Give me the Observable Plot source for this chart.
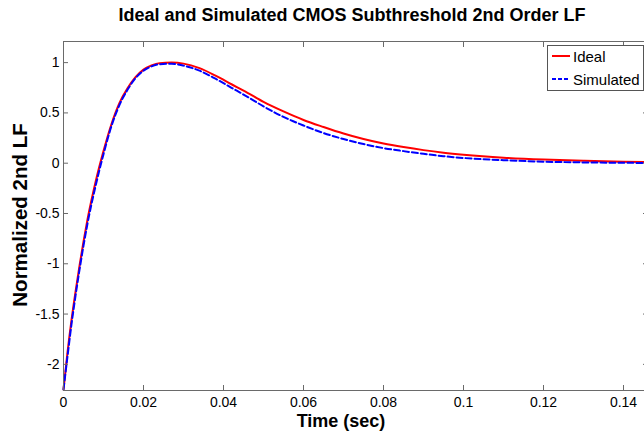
<!DOCTYPE html>
<html>
<head>
<meta charset="utf-8">
<script src="https://cdn.jsdelivr.net/npm/d3@7"></script>
<script src="https://cdn.jsdelivr.net/npm/@observablehq/plot@0.6"></script>
<style>
  html, body { margin: 0; padding: 0; background: #fff; overflow: hidden; width: 644px; height: 433px; }
  #wrap { position: relative; width: 644px; height: 433px; overflow: hidden; font-family: "Liberation Sans", Arial, sans-serif; }
  #title { position: absolute; left: 0; width: 704px; top: 5px; text-align: center; font-family: "Liberation Sans Narrow", "Liberation Sans", Arial, sans-serif; font-weight: bold; font-size: 18px; color: #000; white-space: nowrap; }
  #xlabel { position: absolute; left: 241px; width: 200px; top: 412px; text-align: center; font-weight: bold; font-size: 18px; line-height: 18px; color: #000; white-space: nowrap; }
  #ylabel { position: absolute; left: 20px; top: 215px; transform: translate(-50%, -50%) rotate(-90deg); font-weight: bold; font-size: 20.5px; color: #000; white-space: nowrap; }
  #legend { position: absolute; left: 547px; top: 45px; width: 95px; height: 44px; border: 1px solid #555; background: #fff; font-size: 15px; }
  .item { position: absolute; left: 4px; height: 20px; display: flex; align-items: center; }
  .item span { margin-left: 3px; }
</style>
</head>
<body>
<div id="wrap">
  <div id="chart"></div>
  <div id="title"></div>
  <div id="xlabel"></div>
  <div id="ylabel"></div>
  <div id="legend"></div>
</div>
<script>
const titleText = "Ideal and Simulated CMOS Subthreshold 2nd Order LF";
const xLabel = "Time (sec)";
const yLabel = "Normalized 2nd LF";
const seriesNames = ["Ideal", "Simulated"];
const seriesColors = ["#ff0000", "#0000ff"];

const xTicks = [0, 0.02, 0.04, 0.06, 0.08, 0.1, 0.12, 0.14];
const yTicks = [-2, -1.5, -1, -0.5, 0, 0.5, 1];

const times = [0, 0.001, 0.002, 0.003, 0.004, 0.005, 0.006, 0.008, 0.010, 0.012, 0.014, 0.016, 0.018, 0.020, 0.022, 0.024, 0.027, 0.030, 0.034, 0.038, 0.042, 0.046, 0.050, 0.055, 0.060, 0.065, 0.070, 0.075, 0.080, 0.085, 0.090, 0.095, 0.100, 0.110, 0.120, 0.130, 0.140, 0.150];
const ideal = [-2.25, -1.88, -1.56, -1.28, -1.02, -0.78, -0.56, -0.19, 0.12, 0.39, 0.60, 0.745, 0.855, 0.93, 0.972, 0.995, 1.0, 0.99, 0.945, 0.87, 0.785, 0.70, 0.61, 0.515, 0.43, 0.36, 0.295, 0.24, 0.195, 0.16, 0.13, 0.105, 0.085, 0.055, 0.036, 0.024, 0.015, 0.01];
const simulated = [-2.25, -1.92, -1.60, -1.32, -1.06, -0.82, -0.60, -0.23, 0.09, 0.37, 0.58, 0.73, 0.845, 0.92, 0.963, 0.984, 0.99, 0.97, 0.92, 0.84, 0.75, 0.66, 0.565, 0.46, 0.375, 0.30, 0.24, 0.19, 0.15, 0.12, 0.093, 0.07, 0.052, 0.03, 0.015, 0.008, 0.004, 0.002];

const rows = [
  ...times.map((t, i) => ({t, v: ideal[i], s: seriesNames[0]})),
  ...times.map((t, i) => ({t, v: simulated[i], s: seriesNames[1]}))
];

const axisColor = "#6a6a6a";
const fmt = d => String(d);

const chart = Plot.plot({
  width: 644,
  height: 433,
  marginTop: 41,
  marginBottom: 43,
  marginLeft: 63,
  marginRight: -3,
  x: {domain: [0, 0.146]},
  y: {domain: [-2.26, 1.21]},
  style: {fontFamily: "'Liberation Sans', Arial, sans-serif", fontSize: "14px", color: "#000", background: "#fff", overflow: "hidden"},
  marks: [
    Plot.line(rows.filter(d => d.s === seriesNames[0]), {x: "t", y: "v", stroke: seriesColors[0], strokeWidth: 2, curve: "monotone-x"}),
    Plot.line(rows.filter(d => d.s === seriesNames[1]), {x: "t", y: "v", stroke: seriesColors[1], strokeWidth: 2, strokeDasharray: "6,3", curve: "monotone-x"}),
    Plot.frame({stroke: axisColor}),
    Plot.axisX(xTicks, {anchor: "bottom", tickSize: -5, tickPadding: 12, tickFormat: fmt, stroke: axisColor, fill: "#000", label: null}),
    Plot.axisX(xTicks, {anchor: "top", tickSize: -5, tickFormat: () => "", stroke: axisColor, label: null}),
    Plot.axisY(yTicks, {anchor: "left", tickSize: -5, tickPadding: 9, tickFormat: fmt, stroke: axisColor, fill: "#000", label: null}),
    Plot.axisY(yTicks, {anchor: "right", tickSize: -5, tickFormat: () => "", stroke: axisColor, label: null})
  ]
});
document.getElementById("chart").appendChild(chart);
document.getElementById("title").textContent = titleText;
document.getElementById("xlabel").textContent = xLabel;
document.getElementById("ylabel").textContent = yLabel;

const legend = document.getElementById("legend");
seriesNames.forEach((name, i) => {
  const item = document.createElement("div");
  item.className = "item";
  item.style.top = (i === 0 ? 0 : 23) + "px";
  const dash = i === 1 ? 'stroke-dasharray="4,2"' : "";
  item.innerHTML = `<svg width="18" height="4"><line x1="0" x2="18" y1="2" y2="2" stroke="${seriesColors[i]}" stroke-width="2" ${dash}/></svg><span>${name}</span>`;
  legend.appendChild(item);
});
</script>
</body>
</html>
